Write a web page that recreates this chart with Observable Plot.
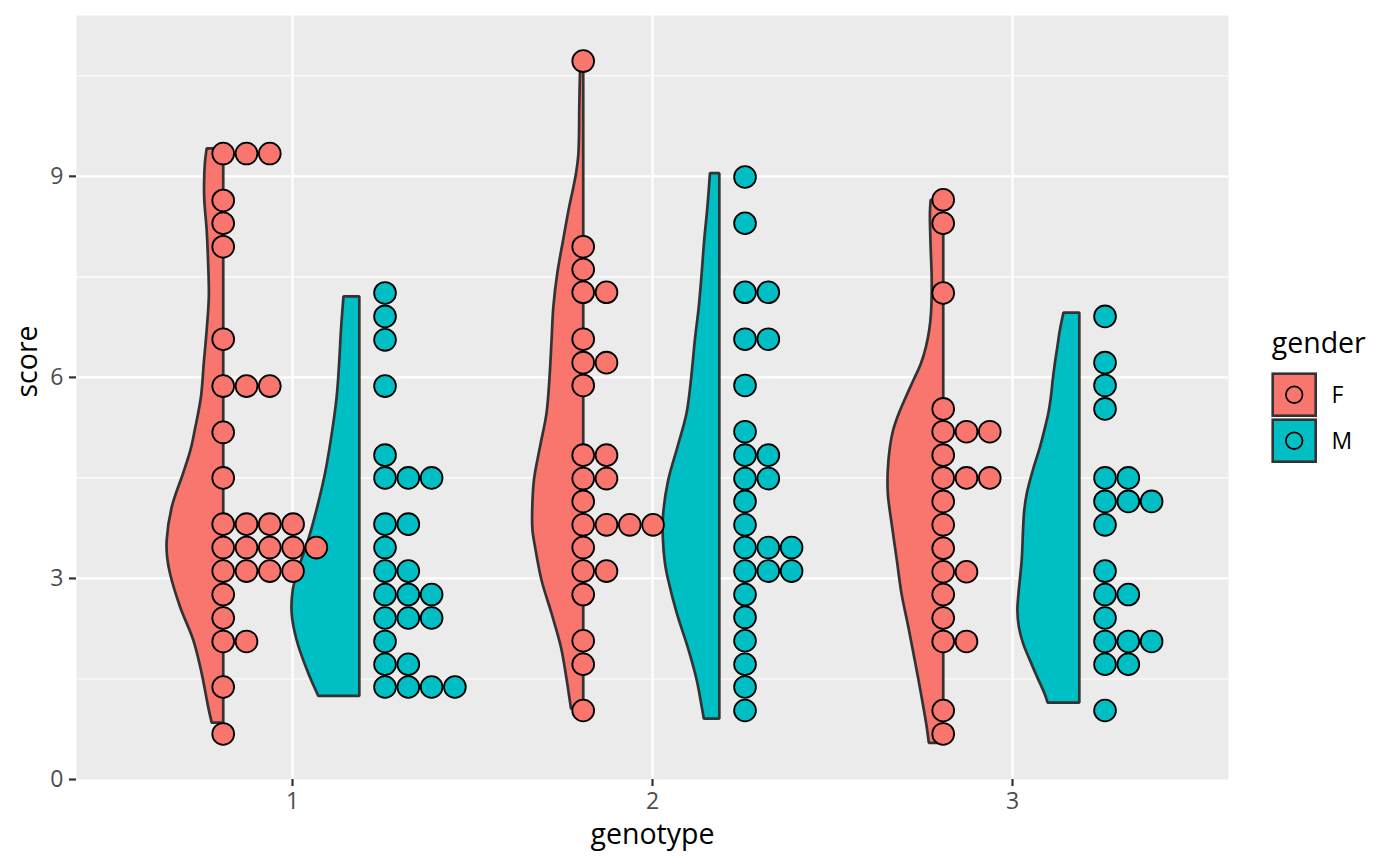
<!DOCTYPE html>
<html>
<head>
<meta charset="utf-8">
<script src="https://cdn.jsdelivr.net/npm/d3@7"></script>
<script src="https://cdn.jsdelivr.net/npm/@observablehq/plot@0.6"></script>
<style>
html, body { margin: 0; padding: 0; background: #ffffff; }
#wrap { position: relative; width: 1400px; height: 865px; font-family: "Open Sans", sans-serif; }
#legend { position: absolute; left: 0; top: 0; pointer-events: none; }
</style>
</head>
<body>
<div id="wrap"></div>
<script>
// ---------- categories & labels ----------
const genotypes = [1, 2, 3];
const genders = ["F", "M"];
const genderColors = ["#F8766D", "#00BFC4"];
const yTicks = [0, 3, 6, 9];
const yMinor = [1.5, 4.5, 7.5, 10.5];
const xTitle = "genotype";
const yTitle = "score";
const legendTitle = "gender";

// ---------- dotplot bins (score, count) per genotype/gender ----------
const dotScoresF1 = [9.34, 8.64, 8.30, 7.95, 6.57, 5.87, 5.18, 4.50, 3.81, 3.46, 3.11, 2.76, 2.41, 2.06, 1.38, 0.68];
const dotCountsF1 = [3, 1, 1, 1, 1, 3, 1, 1, 4, 5, 4, 1, 1, 2, 1, 1];
const dotScoresM1 = [7.26, 6.91, 6.56, 5.87, 4.84, 4.50, 3.81, 3.46, 3.11, 2.76, 2.41, 2.06, 1.72, 1.38];
const dotCountsM1 = [1, 1, 1, 1, 1, 3, 2, 1, 2, 3, 3, 1, 2, 4];
const dotScoresF2 = [10.72, 7.95, 7.61, 7.27, 6.57, 6.22, 5.88, 4.84, 4.49, 4.15, 3.80, 3.46, 3.11, 2.76, 2.07, 1.72, 1.03];
const dotCountsF2 = [1, 1, 1, 2, 1, 2, 1, 2, 2, 1, 4, 1, 2, 1, 1, 1, 1];
const dotScoresM2 = [8.99, 8.30, 7.27, 6.57, 5.88, 5.19, 4.84, 4.49, 4.15, 3.80, 3.46, 3.11, 2.76, 2.42, 2.07, 1.72, 1.38, 1.03];
const dotCountsM2 = [1, 1, 2, 2, 1, 1, 2, 2, 1, 1, 3, 3, 1, 1, 1, 1, 1, 1];
const dotScoresF3 = [8.65, 8.30, 7.26, 5.53, 5.19, 4.84, 4.50, 4.15, 3.80, 3.45, 3.10, 2.76, 2.41, 2.06, 1.03, 0.68];
const dotCountsF3 = [1, 1, 1, 1, 3, 1, 3, 1, 1, 1, 2, 1, 1, 2, 1, 1];
const dotScoresM3 = [6.91, 6.22, 5.88, 5.53, 4.50, 4.15, 3.80, 3.11, 2.76, 2.41, 2.06, 1.72, 1.03];
const dotCountsM3 = [1, 1, 1, 1, 2, 3, 1, 1, 2, 1, 3, 2, 1];

// ---------- half-violin profiles (score, half width in genotype units) ----------
const violinScoresF1 = [9.41, 9.19, 8.69, 8.19, 7.70, 7.20, 6.70, 6.21, 5.70, 5.21, 4.91, 4.57, 4.06, 3.57, 3.32, 3.07, 2.57, 2.07, 1.58, 1.08, 0.84];
const violinWidthsF1 = [0.046, 0.051, 0.053, 0.046, 0.042, 0.040, 0.046, 0.054, 0.062, 0.079, 0.091, 0.111, 0.143, 0.157, 0.156, 0.148, 0.120, 0.083, 0.060, 0.042, 0.032];
const violinScoresM1 = [7.20, 6.70, 6.21, 5.70, 5.21, 4.57, 4.06, 3.57, 3.07, 2.82, 2.48, 2.07, 1.58, 1.24];
const violinWidthsM1 = [0.044, 0.051, 0.056, 0.063, 0.075, 0.095, 0.117, 0.142, 0.174, 0.185, 0.188, 0.174, 0.142, 0.114];
const violinScoresF2 = [10.56, 10.03, 9.54, 9.29, 9.04, 8.79, 8.54, 8.04, 7.55, 7.05, 6.55, 6.05, 5.46, 4.96, 4.46, 3.96, 3.71, 3.47, 2.97, 2.47, 1.97, 1.48, 1.23, 1.05];
const violinWidthsF2 = [0.009, 0.011, 0.012, 0.014, 0.020, 0.029, 0.039, 0.056, 0.072, 0.083, 0.088, 0.093, 0.102, 0.120, 0.137, 0.142, 0.141, 0.134, 0.116, 0.088, 0.062, 0.046, 0.039, 0.034];
const violinScoresM2 = [9.04, 8.54, 8.04, 7.55, 7.05, 6.55, 6.05, 5.46, 4.96, 4.46, 3.96, 3.61, 3.22, 2.97, 2.47, 1.97, 1.48, 1.08, 0.90];
const violinWidthsM2 = [0.026, 0.033, 0.042, 0.049, 0.057, 0.068, 0.077, 0.091, 0.116, 0.142, 0.156, 0.157, 0.151, 0.142, 0.118, 0.088, 0.063, 0.049, 0.043];
const violinScoresF3 = [8.64, 8.44, 7.94, 7.45, 6.95, 6.70, 6.45, 6.20, 5.95, 5.70, 5.46, 5.21, 4.96, 4.61, 4.26, 3.76, 3.27, 2.77, 2.27, 1.77, 1.28, 0.78, 0.54];
const violinWidthsF3 = [0.035, 0.037, 0.035, 0.032, 0.034, 0.039, 0.048, 0.062, 0.083, 0.104, 0.123, 0.139, 0.148, 0.154, 0.154, 0.142, 0.129, 0.116, 0.097, 0.079, 0.062, 0.046, 0.040];
const violinScoresM3 = [6.96, 6.70, 6.45, 6.20, 5.95, 5.70, 5.46, 5.21, 4.96, 4.61, 4.26, 4.01, 3.76, 3.27, 2.77, 2.52, 2.27, 2.02, 1.77, 1.52, 1.28, 1.14];
const violinWidthsM3 = [0.044, 0.054, 0.061, 0.068, 0.074, 0.079, 0.086, 0.097, 0.109, 0.129, 0.146, 0.153, 0.156, 0.160, 0.169, 0.172, 0.168, 0.156, 0.137, 0.117, 0.097, 0.088];

// ---------- assemble tables ----------
const violinSets = [
  {genotype: 1, gender: "F", scores: violinScoresF1, widths: violinWidthsF1},
  {genotype: 1, gender: "M", scores: violinScoresM1, widths: violinWidthsM1},
  {genotype: 2, gender: "F", scores: violinScoresF2, widths: violinWidthsF2},
  {genotype: 2, gender: "M", scores: violinScoresM2, widths: violinWidthsM2},
  {genotype: 3, gender: "F", scores: violinScoresF3, widths: violinWidthsF3},
  {genotype: 3, gender: "M", scores: violinScoresM3, widths: violinWidthsM3}
];
const dotSets = [
  {genotype: 1, gender: "F", scores: dotScoresF1, counts: dotCountsF1},
  {genotype: 1, gender: "M", scores: dotScoresM1, counts: dotCountsM1},
  {genotype: 2, gender: "F", scores: dotScoresF2, counts: dotCountsF2},
  {genotype: 2, gender: "M", scores: dotScoresM2, counts: dotCountsM2},
  {genotype: 3, gender: "F", scores: dotScoresF3, counts: dotCountsF3},
  {genotype: 3, gender: "M", scores: dotScoresM3, counts: dotCountsM3}
];

const violinEdge = {F: -0.191, M: 0.187};   // dodge offset of the violin's flat side
const dotStart = {F: -0.1925, M: 0.257};    // dodge offset of first dot column
const dotStep = 0.0647;                     // stack spacing (one dot diameter)

const violinRows = violinSets.flatMap(s => {
  const edge = s.genotype + violinEdge[s.gender];
  return s.scores.map((v, i) => ({group: s.gender + s.genotype, gender: s.gender, score: v, x1: edge - s.widths[i], x2: edge}));
});
const dotRows = dotSets.flatMap(s => {
  const start = s.genotype + dotStart[s.gender];
  return s.scores.flatMap((v, i) => d3.range(s.counts[i]).map(k => ({gender: s.gender, score: v, x: start + k * dotStep})));
});

const chart = Plot.plot({
  width: 1400,
  height: 865,
  marginLeft: 76,
  marginRight: 172,
  marginTop: 15,
  marginBottom: 86,
  style: {fontFamily: '"Open Sans", sans-serif', background: "#ffffff", overflow: "visible"},
  x: {domain: [0.4, 3.6]},
  y: {domain: [0, 11.40]},
  color: {domain: genders, range: genderColors},
  marks: [
    Plot.frame({fill: "#EBEBEB", stroke: "none"}),
    Plot.gridY(yMinor, {stroke: "white", strokeOpacity: 1, strokeWidth: 1.1}),
    Plot.gridY(yTicks.filter(d => d > 0), {stroke: "white", strokeOpacity: 1, strokeWidth: 2.2}),
    Plot.gridX(genotypes, {stroke: "white", strokeOpacity: 1, strokeWidth: 2.2}),
    Plot.areaX(violinRows, {y: "score", x1: "x1", x2: "x2", z: "group", fill: "gender", stroke: "#333333", strokeWidth: 2.7, strokeLinejoin: "miter", curve: "catmull-rom"}),
    Plot.dot(dotRows, {x: "x", y: "score", r: 10.9, fill: "gender", stroke: "black", strokeWidth: 1.8}),
    Plot.axisX(genotypes, {tickSize: 7, tickPadding: 6, fontSize: 23, stroke: "#333333", strokeWidth: 2.2, fill: "#4D4D4D", label: null, tickFormat: d => String(d)}),
    Plot.axisY(yTicks, {tickSize: 7, tickPadding: 6, fontSize: 23, stroke: "#333333", strokeWidth: 2.2, fill: "#4D4D4D", label: null, tickFormat: d => String(d)}),
    Plot.text([xTitle], {text: d => d, frameAnchor: "bottom", dy: 64, lineAnchor: "bottom", fontSize: 28.5, fill: "black"}),
    Plot.text([yTitle], {text: d => d, frameAnchor: "left", dx: -48.7, rotate: -90, fontSize: 28.5, fill: "black"})
  ]
});
document.getElementById("wrap").appendChild(chart);

// ---------- legend (drawn beside the panel) ----------
const leg = d3.select("#wrap").append("svg")
  .attr("id", "legend").attr("width", 1400).attr("height", 865)
  .style("font-family", '"Open Sans", sans-serif');
leg.append("text").attr("x", 1271.7).attr("y", 353.3).attr("font-size", 28.5).attr("fill", "black").text(legendTitle);
genders.forEach((g, i) => {
  const top = 373.7 + i * 46;
  leg.append("rect").attr("x", 1272.7).attr("y", top).attr("width", 43).attr("height", 42)
    .attr("fill", genderColors[i]).attr("stroke", "#333333").attr("stroke-width", 2.6);
  leg.append("circle").attr("cx", 1294.2).attr("cy", top + 21).attr("r", 8.3)
    .attr("fill", genderColors[i]).attr("stroke", "black").attr("stroke-width", 1.8);
  leg.append("text").attr("x", 1331.5).attr("y", top + 21 + 8.5).attr("font-size", 23).attr("fill", "black").text(g);
});
</script>
</body>
</html>
